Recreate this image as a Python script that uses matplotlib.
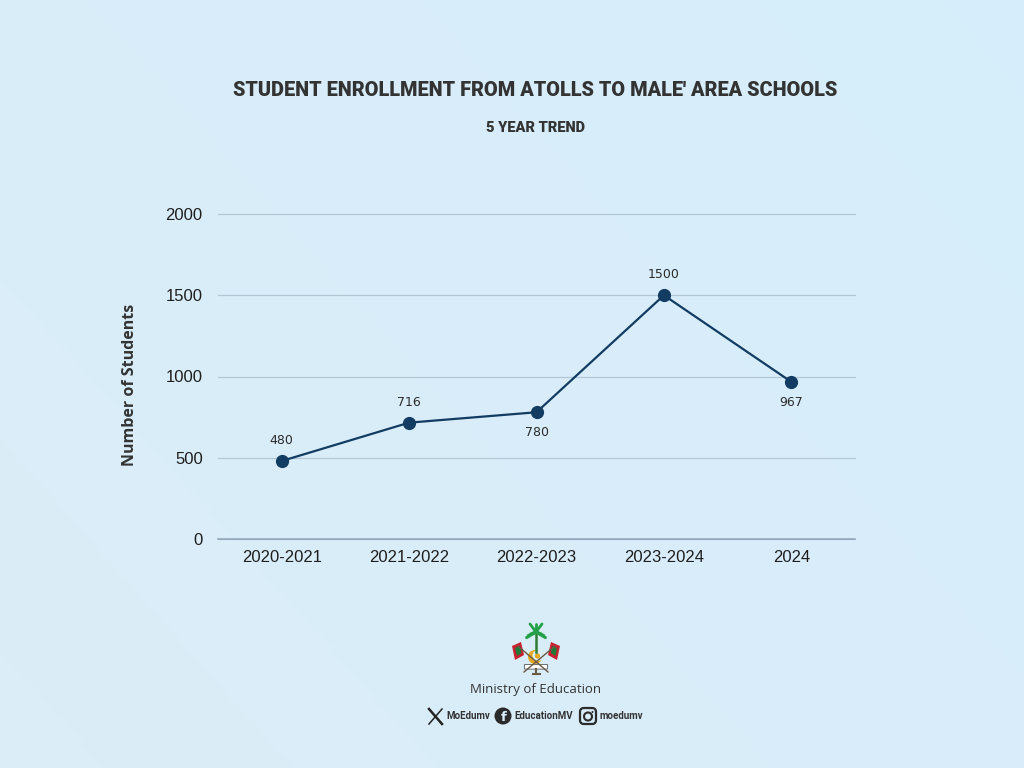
import matplotlib
matplotlib.use("Agg")
import matplotlib.pyplot as plt
import numpy as np
from matplotlib.patches import Circle, FancyBboxPatch, Polygon

# ---- data ----
categories = ["2020-2021", "2021-2022", "2022-2023", "2023-2024", "2024"]
students = [480, 716, 780, 1500, 967]
label_above = [True, True, False, True, False]
y_ticks = [0, 500, 1000, 1500, 2000]

title = "STUDENT ENROLLMENT FROM ATOLLS TO MALE\u2032 AREA SCHOOLS"
subtitle = "5 YEAR TREND"
y_label = "Number of Students"
ministry = "Ministry of Education"
handles = ["MoEdumv", "EducationMV", "moedumv"]

LINE = "#133c63"
TEXT = "#2b2b2b"

fig = plt.figure(figsize=(10.24, 7.68), dpi=100)

# background gradient
bg = fig.add_axes([0, 0, 1, 1], zorder=-10)
gx = np.linspace(0, 1, 200)
gy = np.linspace(0, 1, 150)
X, Y = np.meshgrid(gx, gy)
c1 = np.array([0.86, 0.93, 0.97])
c2 = np.array([0.84, 0.93, 0.985])
t = (0.6 * X + 0.4 * (1 - Y))[..., None]
img = c1 * (1 - t) + c2 * t
bg.imshow(img, extent=[0, 1, 0, 1], aspect="auto", origin="upper")
bg.set_axis_off()

ax = fig.add_axes([218 / 1024, 1 - 539 / 768, (855 - 218) / 1024, 325 / 768])
ax.patch.set_alpha(0)
x = np.arange(len(categories))
ax.plot(x, students, color=LINE, lw=1.6, marker="o", ms=8.5, zorder=3)
for xi, v, up in zip(x, students, label_above):
    ax.annotate(str(v), (xi, v), xytext=(0, 10 if up else -10), textcoords="offset points",
                ha="center", va="bottom" if up else "top", fontsize=9, color=TEXT,
                family=["DejaVu Sans"])
ax.set_xlim(-0.5, len(categories) - 0.5)
ax.set_ylim(0, 2000)
ax.set_yticks(y_ticks)
ax.set_xticks(x)
ax.set_xticklabels(categories)
ax.tick_params(axis="both", length=0, labelsize=12, colors="#1e1e1e")
ax.tick_params(axis="y", pad=11)
ax.tick_params(axis="x", pad=8)
for lab in ax.get_xticklabels() + ax.get_yticklabels():
    lab.set_family(["Liberation Sans", "DejaVu Sans"])
ax.grid(axis="y", color="#b3c7d6", lw=0.9)
ax.set_axisbelow(True)
for s in ["top", "right", "left"]:
    ax.spines[s].set_visible(False)
ax.spines["bottom"].set_color("#8ea4b6")
ax.spines["bottom"].set_linewidth(1.1)
for gl in ax.get_ygridlines():
    gl.set_clip_on(False)

fig.text(130 / 1024, 1 - 385 / 768, y_label, rotation=90, ha="center", va="center",
         fontsize=11.5, fontweight="bold", color="#333333", family=["Open Sans", "DejaVu Sans"])

fig.text(535 / 1024, 1 - 91 / 768, title, ha="center", va="center", fontsize=14.3,
         fontweight="heavy", color="#333333", family=["Roboto", "DejaVu Sans"])
fig.text(535 / 1024, 1 - 128 / 768, subtitle, ha="center", va="center", fontsize=10.5,
         fontweight="heavy", color="#333333", family=["Roboto", "DejaVu Sans"])

# ---- footer ----
ov = fig.add_axes([0, 0, 1, 1], zorder=5)
ov.set_xlim(0, 1024)
ov.set_ylim(768, 0)
ov.set_axis_off()

# simplified emblem
cx = 536
ov.plot([518, 548], [646, 672], color="#6b5a44", lw=1)
ov.plot([555, 524], [646, 672], color="#6b5a44", lw=1)
ov.add_patch(Polygon([[512, 646], [521, 642], [524, 655], [515, 660]], closed=True, fc="#c8202f", ec="none"))
ov.add_patch(Polygon([[515, 648], [520, 646], [521.5, 653], [517, 656]], closed=True, fc="#1f7a3a", ec="none"))
ov.add_patch(Polygon([[551, 642], [560, 646], [557, 660], [548, 655]], closed=True, fc="#c8202f", ec="none"))
ov.add_patch(Polygon([[552, 646], [557, 648], [555.5, 656], [551, 653]], closed=True, fc="#1f7a3a", ec="none"))
ov.plot([cx, cx], [628, 652], color="#2e7d32", lw=1.8)
for ang in np.linspace(160, 20, 8):
    a = np.deg2rad(ang)
    ov.plot([cx, cx + 10 * np.cos(a)], [632, 632 - 7 * np.sin(a) + 8], color="#24a148", lw=2.2,
            solid_capstyle="round")
for dx in (-3, 0, 3):
    ov.plot([cx, cx + dx * 2], [632, 624], color="#24a148", lw=2.0, solid_capstyle="round")
ov.add_patch(Circle((cx - 1, 657), 7, fc="#e7a821", ec="none"))
ov.add_patch(Circle((cx + 2, 655.5), 5.5, fc="#dbeef9", ec="none"))
ov.add_patch(Circle((cx + 1.5, 656), 2.6, fc="#e7a821", ec="none"))
ov.add_patch(FancyBboxPatch((525, 665), 22, 3.5, boxstyle="round,pad=0.6", fc="white", ec="#555555", lw=0.6))
ov.plot([cx, cx], [669, 674], color="#6b5a44", lw=1.5)
ov.plot([cx - 3.5, cx + 3.5], [674, 674], color="#6b5a44", lw=1.5)

ov.text(cx, 690, ministry, ha="center", va="center", fontsize=9.5, color="#333333",
        family=["Open Sans", "DejaVu Sans"])

fy = 716
ov.plot([429, 442], [709, 724], color="#222222", lw=1.8)
ov.plot([429, 442], [724, 709], color="#222222", lw=1.1)
ov.text(446, fy, handles[0], ha="left", va="center", fontsize=7, fontweight="bold", color="#333333",
        family=["Roboto", "DejaVu Sans"])
ov.add_patch(Circle((503, fy), 8.5, fc="#2b2b2b", ec="none"))
ov.text(504, fy + 1.5, "f", ha="center", va="center", fontsize=9.5, fontweight="bold", color="#dbeef9",
        family=["DejaVu Sans"])
ov.text(514, fy, handles[1], ha="left", va="center", fontsize=7, fontweight="bold", color="#333333",
        family=["Roboto", "DejaVu Sans"])
ov.add_patch(FancyBboxPatch((580, fy - 8), 16, 16, boxstyle="round,pad=0,rounding_size=4",
                            fc="none", ec="#2b2b2b", lw=1.6))
ov.add_patch(Circle((588, fy + 0.5), 4, fc="none", ec="#2b2b2b", lw=1.5))
ov.add_patch(Circle((592.5, fy - 4), 1, fc="#2b2b2b", ec="none"))
ov.text(600, fy, handles[2], ha="left", va="center", fontsize=7, fontweight="bold", color="#333333",
        family=["Roboto", "DejaVu Sans"])

fig.savefig("out.png", dpi=100)
